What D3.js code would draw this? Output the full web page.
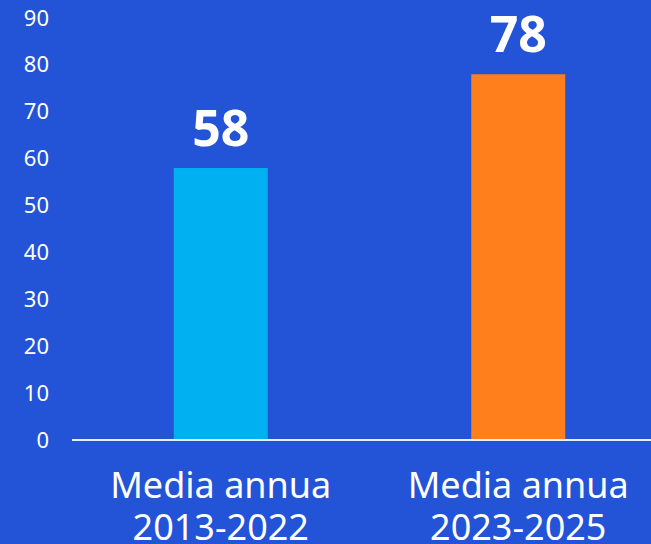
<!DOCTYPE html>
<html>
<head>
<meta charset="utf-8">
<script src="https://cdn.jsdelivr.net/npm/d3@7"></script>
<style>
  html, body { margin: 0; padding: 0; background: #2353d6; }
  svg { display: block; }
  text { font-family: "Noto Sans", sans-serif; fill: #fff; }
</style>
</head>
<body>
<div id="chart"></div>
<script>
// data
const categories = [["Media annua", "2013-2022"], ["Media annua", "2023-2025"]];
const values = [58, 78];
const barColors = ["#00b0f0", "#ff7f1c"];
const yTicks = [0, 10, 20, 30, 40, 50, 60, 70, 80, 90];

(function(){
	var w = 651,
		h = 544,
		left = 72,
		bottom = 440,
		topY = 18;

	let svg = d3.select("#chart")
				.append("svg")
				.attr("width", w)
				.attr("height", h);

	svg.append("rect")
	   .attr("width", w)
	   .attr("height", h)
	   .attr("fill", "#2353d6");

	let xScale = d3.scaleBand()
				   .domain(d3.range(values.length))
				   .range([left, 667])
				   .paddingInner(0.684)
				   .paddingOuter(0.342);

	let yScale = d3.scaleLinear()
				   .domain([0, 90])
				   .range([bottom, topY]);

	let yAxis = d3.axisLeft(yScale)
				  .tickValues(yTicks)
				  .tickSize(0)
				  .tickPadding(23);

	let ya = svg.append("g")
				.attr("transform", "translate(" + left + ",0)")
				.call(yAxis);
	ya.select(".domain").remove();
	ya.selectAll("text")
	  .attr("fill", "#fff")
	  .style("font-size", "22px")
	  .style("font-family", "'Noto Sans', sans-serif");

	// bars
	svg.append("g")
	   .selectAll("rect")
	   .data(values)
	   .enter()
	   .append("rect")
	   .attr("x", (d, i) => xScale(i))
	   .attr("y", (d) => yScale(d))
	   .attr("width", xScale.bandwidth())
	   .attr("height", (d) => yScale(0) - yScale(d))
	   .attr("fill", (d, i) => barColors[i]);

	// baseline
	svg.append("line")
	   .attr("x1", left)
	   .attr("x2", w)
	   .attr("y1", yScale(0))
	   .attr("y2", yScale(0))
	   .attr("stroke", "#e8eeff")
	   .attr("stroke-width", 2);

	// value labels
	svg.append("g")
	   .selectAll("text")
	   .data(values)
	   .enter()
	   .append("text")
	   .attr("x", (d, i) => xScale(i) + xScale.bandwidth() / 2)
	   .attr("y", (d) => yScale(d) - 22)
	   .attr("text-anchor", "middle")
	   .style("font-size", "50px")
	   .style("font-weight", "bold")
	   .text((d) => d);

	// category labels
	let cat = svg.append("g")
				 .selectAll("text")
				 .data(categories)
				 .enter()
				 .append("text")
				 .attr("x", (d, i) => xScale(i) + xScale.bandwidth() / 2)
				 .attr("y", 498)
				 .attr("text-anchor", "middle")
				 .style("font-size", "36px");

	cat.selectAll("tspan")
	   .data((d) => d)
	   .enter()
	   .append("tspan")
	   .attr("x", function() { return this.parentNode.getAttribute("x"); })
	   .attr("dy", (d, i) => i == 0 ? 0 : 42)
	   .text((d) => d);
})();
</script>
</body>
</html>
